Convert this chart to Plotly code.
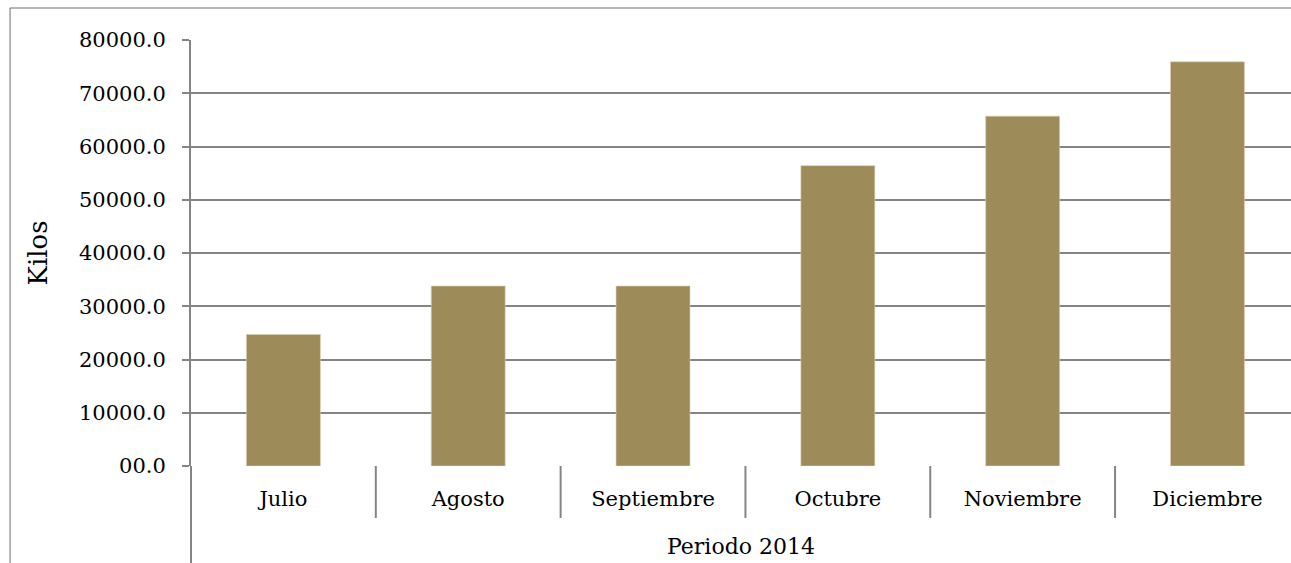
import plotly.graph_objects as go

categories = ["Julio", "Agosto", "Septiembre", "Octubre", "Noviembre", "Diciembre"]
kilos = [24700, 33800, 33800, 56400, 65700, 75900]
y_tickvals = [0, 10000, 20000, 30000, 40000, 50000, 60000, 70000, 80000]
y_ticktext = ["00.0", "10000.0", "20000.0", "30000.0", "40000.0", "50000.0", "60000.0", "70000.0", "80000.0"]

FONT = "DejaVu Serif"
GRID = "#858585"
BAR = "#9D8B5A"

fig = go.Figure(go.Bar(
    x=categories, y=kilos, width=0.4,
    marker=dict(color=BAR, line=dict(color="#D8CFB0", width=0.6)),
))

n = len(categories)
shapes = []
# category dividers below the axis
for i in range(n - 1):
    shapes.append(dict(type="line", xref="x", yref="paper", x0=i + 0.5, x1=i + 0.5,
                       y0=0, y1=-0.122, line=dict(color=GRID, width=2)))
# y axis line continuing down
shapes.append(dict(type="line", xref="paper", yref="paper", x0=0, x1=0, y0=0, y1=-0.3,
                   line=dict(color=GRID, width=2)))
# outer frame (top and left edges only; the rest lies outside the view)
shapes.append(dict(type="line", xref="paper", yref="paper", x0=-0.1645, x1=1.05, y0=1.0751, y1=1.0751,
                   line=dict(color="#6E6E6E", width=1)))
shapes.append(dict(type="line", xref="paper", yref="paper", x0=-0.1645, x1=-0.1645, y0=1.0751, y1=-0.3,
                   line=dict(color="#6E6E6E", width=1)))

fig.update_layout(
    width=1291, height=563,
    margin=dict(l=191, r=0, t=40, b=97),
    paper_bgcolor="white", plot_bgcolor="white",
    font=dict(family=FONT, size=21, color="black"),
    showlegend=False,
    shapes=shapes,
    xaxis=dict(
        type="category", range=[-0.5, n - 0.548],
        showgrid=False, showline=False, zeroline=False, ticks="",
        tickfont=dict(family=FONT, size=21, color="black"),
        ticklabelstandoff=18,
        title=dict(text="Periodo 2014", font=dict(family=FONT, size=22, color="black"), standoff=28),
    ),
    yaxis=dict(
        range=[0, 80000], tickvals=y_tickvals, ticktext=y_ticktext,
        showgrid=True, gridcolor=GRID, gridwidth=2,
        showline=True, linecolor=GRID, linewidth=2,
        zeroline=False,
        ticks="outside", ticklen=7, tickcolor=GRID, tickwidth=2,
        ticklabelstandoff=12,
        tickfont=dict(family=FONT, size=21, color="black"),
        title=dict(text="Kilos", font=dict(family=FONT, size=26, color="black"), standoff=24),
    ),
)

fig.write_html(
    "out.html",
    config={"displayModeBar": False},
    post_script="document.body.style.margin='0px';document.body.style.overflow='hidden';",
)
